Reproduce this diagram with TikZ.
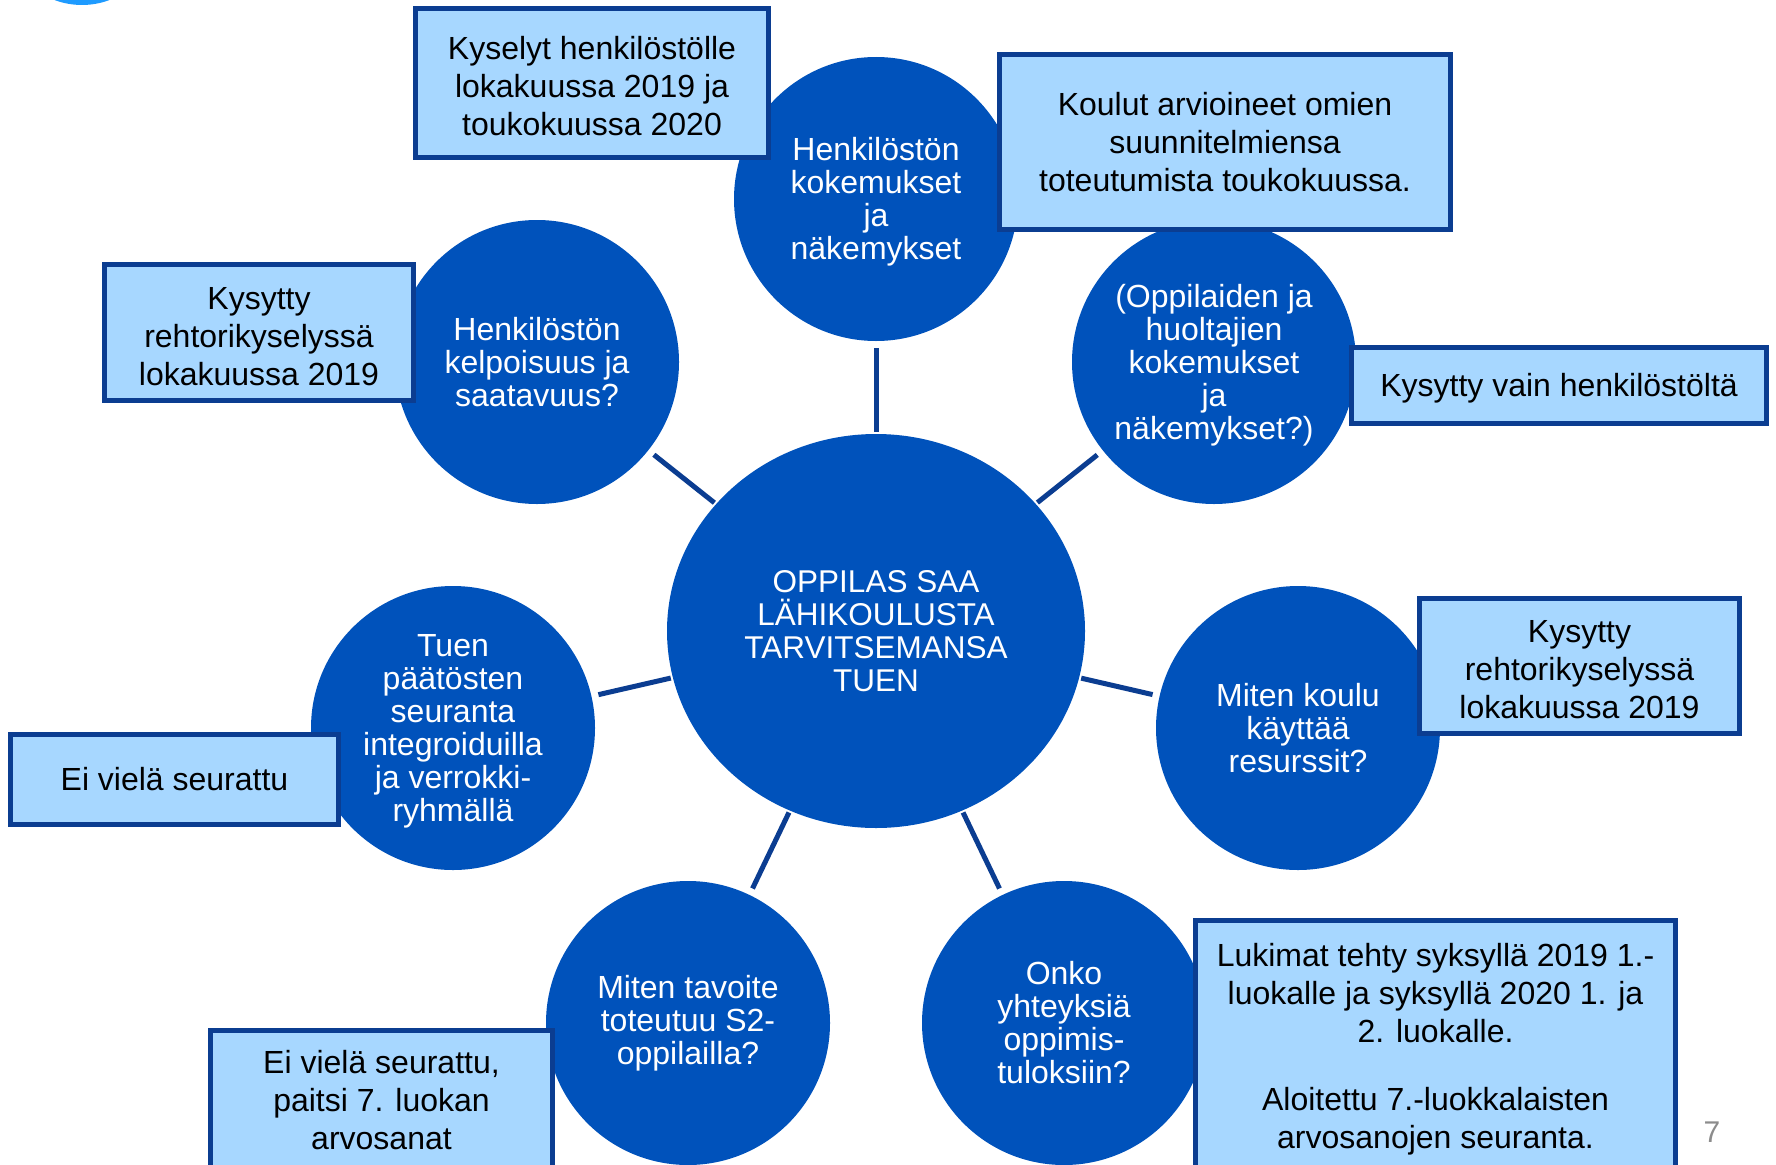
\documentclass[tikz,border=0pt]{standalone}
\usepackage{fontspec}
\setmainfont{Liberation Sans}
\usetikzlibrary{shapes.geometric}
\definecolor{circblue}{HTML}{0052BB}
\definecolor{navy}{HTML}{0B3D91}
\definecolor{boxfill}{HTML}{A7D7FF}
\definecolor{lightdot}{HTML}{1E9BFF}
\definecolor{pagegray}{HTML}{8C8C8C}
\newcommand\mytopstrut{\rule{0pt}{29.5pt}}
\begin{document}
\begin{tikzpicture}[x=1pt,y=-1pt,
  bub/.style={circle, fill=circblue, text=white, minimum size=284pt, inner sep=0pt, align=center, font=\fontsize{32}{33}\selectfont},
  hub/.style={ellipse, fill=circblue, text=white, minimum width=418pt, minimum height=394pt, inner sep=0pt, align=center, font=\fontsize{31.5}{33}\selectfont},
  note/.style={rectangle, draw=navy, line width=5pt, fill=boxfill, text=black, inner sep=0pt, align=center, font=\fontsize{32}{38}\selectfont},
  link/.style={draw=navy, line width=5pt, shorten <=2pt, shorten >=7pt}]
\useasboundingbox (0,0) rectangle (1776,1164);
\clip (0,0) rectangle (1776,1164);
\fill[white] (0,0) rectangle (1776,1164);
% partial circle at top-left
\fill[lightdot] (82,-73) circle (78);
% circles
\node[hub] (hub) at (876,631) {OPPILAS SAA\\LÄHIKOULUSTA\\TARVITSEMANSA\\TUEN};
\node[bub] (c1) at (876,199) {\mytopstrut Henkilöstön\\kokemukset\\ja\\näkemykset};
\node[bub] (c2) at (537,362) {Henkilöstön\\kelpoisuus ja\\saatavuus?};
\node[bub] (c3) at (1214,362) {\mytopstrut (Oppilaiden ja\\huoltajien\\kokemukset\\ja\\näkemykset?)};
\node[bub] (c4) at (453,728) {\mytopstrut Tuen\\päätösten\\seuranta\\integroiduilla\\ja verrokki-\\ryhmällä};
\node[bub] (c5) at (1298,728) {Miten koulu\\käyttää\\resurssit?};
\node[bub] (c6) at (688,1023) {Miten tavoite\\toteutuu S2-\\oppilailla?};
\node[bub] (c7) at (1064,1023) {Onko\\yhteyksiä\\oppimis-\\tuloksiin?};
% connectors
\foreach \c in {c1,c2,c3,c4,c5,c6,c7} \draw[link] (hub) -- (\c);
% boxes
\node[note, minimum width=353pt, minimum height=149pt] (b1) at (592,83) {\mytopstrut Kyselyt henkilöstölle\\lokakuussa 2019 ja\\toukokuussa 2020};
\node[note, minimum width=451pt, minimum height=175pt] (b2) at (1225,142) {Koulut arvioineet omien\\suunnitelmiensa\\toteutumista toukokuussa.};
\node[note, minimum width=309pt, minimum height=136pt] (b3) at (259,332.5) {\mytopstrut Kysytty\\rehtorikyselyssä\\lokakuussa 2019};
\node[note, minimum width=415pt, minimum height=76pt] (b4) at (1559,385.5) {\mytopstrut Kysytty vain henkilöstöltä};
\node[note, minimum width=320pt, minimum height=135pt] (b5) at (1579.5,666) {\mytopstrut Kysytty\\rehtorikyselyssä\\lokakuussa 2019};
\node[note, minimum width=328pt, minimum height=90pt] (b6) at (174.5,779.5) {Ei vielä seurattu};
\node[note, minimum width=342pt, minimum height=139pt] (b7) at (381.5,1100) {Ei vielä seurattu,\\paitsi 7. luokan\\arvosanat};
\node[note, minimum width=480pt, minimum height=251pt] (b8) at (1435.5,1046) {\mytopstrut Lukimat tehty syksyllä 2019 1.-\\luokalle ja syksyllä 2020 1. ja\\2. luokalle.\\[30pt]Aloitettu 7.-luokkalaisten\\arvosanojen seuranta.};
% page number
\node[text=pagegray, font=\fontsize{30}{30}\selectfont, inner sep=0pt] (pg) at (1712,1132) {7};
\end{tikzpicture}
\end{document}
